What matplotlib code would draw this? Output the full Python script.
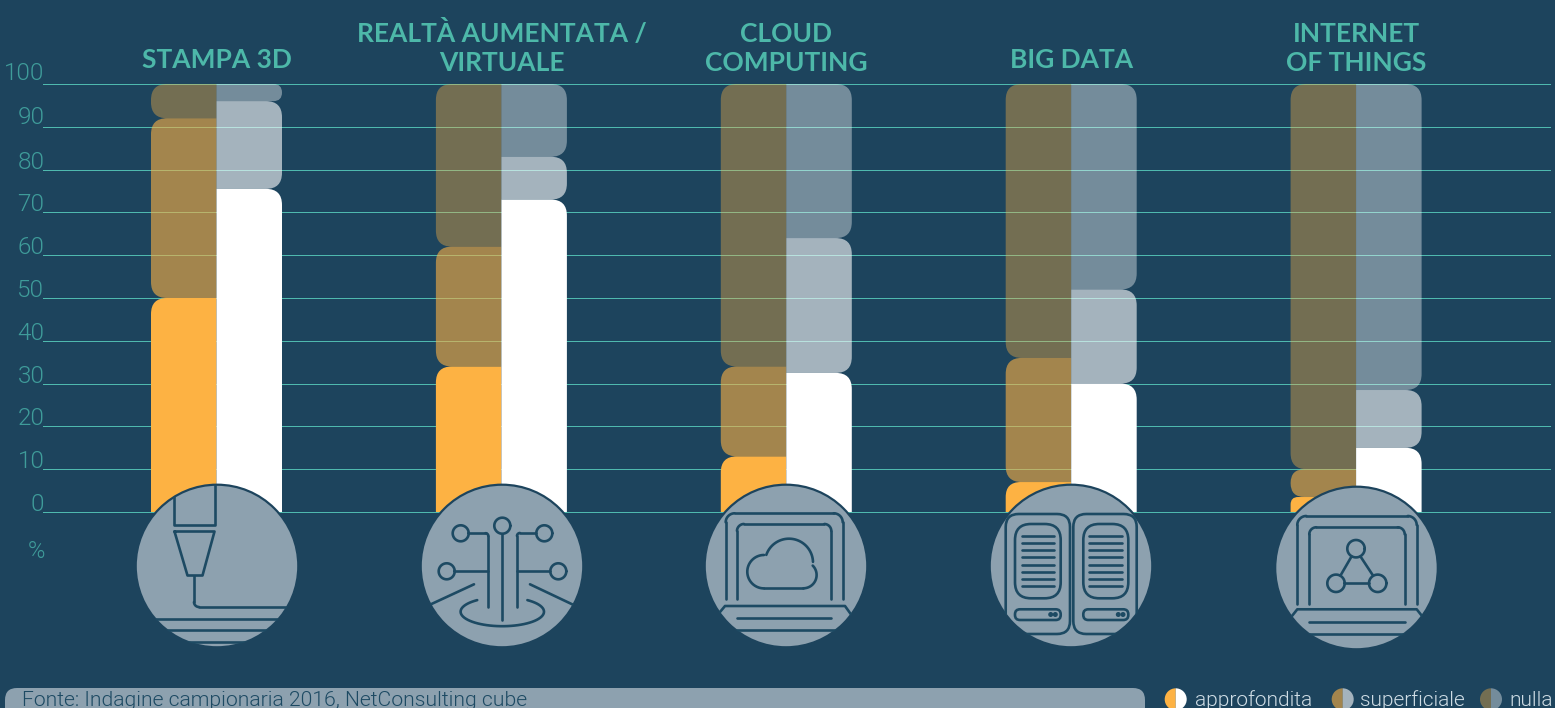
import numpy as np
import matplotlib
matplotlib.use('Agg')
import matplotlib.pyplot as plt
from matplotlib.patches import Circle, FancyBboxPatch, PathPatch, Wedge
from matplotlib.path import Path
from matplotlib.transforms import ScaledTranslation

# Data
titles = ['STAMPA 3D', 'REALTÀ AUMENTATA /\nVIRTUALE', 'CLOUD\nCOMPUTING', 'BIG DATA', 'INTERNET\nOF THINGS']
left_approfondita = [50, 34, 13, 7, 3.5]
left_superficiale = [42, 28, 21, 29, 6.5]
left_nulla = [8, 38, 66, 64, 90]
right_approfondita = [75.5, 73, 32.5, 30, 15]
right_superficiale = [20.5, 10, 31.5, 22, 13.5]
right_nulla = [4, 17, 36, 48, 71.5]
y_ticks = [0, 10, 20, 30, 40, 50, 60, 70, 80, 90, 100]
legend_labels = ['approfondita', 'superficiale', 'nulla']
source = 'Fonte: Indagine campionaria 2016, NetConsulting cube'

# Colours
bg = '#1D445D'
teal = '#4DB8A9'
teal_dim = '#3F9C9A'
grid_col = '#4FB9AE'
orange = '#FDB243'
icon_bg = '#8DA1AF'
icon_line = '#1D4A63'
legend_text = '#CFDDE5'
alpha_sup = 0.6
alpha_null = 0.39

W, H = 1555, 708
step = 284.9
first = 216.5
half_w = 65.5
y0_px, y100_px = 512, 84
x_l, x_r = 43, 1550

plt.rcParams['font.family'] = ['Lato', 'DejaVu Sans']
light_font = ['Roboto', 'DejaVu Sans']

fig = plt.figure(figsize=(W / 100, H / 100), dpi=100, facecolor=bg)

# Bars axes: categories on x, percent on y
ax = fig.add_axes([x_l / W, 1 - y0_px / H, (x_r - x_l) / W, (y0_px - y100_px) / H], facecolor='none')
ax.set_xlim((x_l - first) / step, (x_r - first) / step)
ax.set_ylim(0, 100)
px_y = (y0_px - y100_px) / 100
for s in ax.spines.values():
    s.set_visible(False)
ax.set_xticks([])
ax.set_yticks(y_ticks)
ax.set_yticklabels([str(v) for v in y_ticks], fontsize=17.5, fontweight=300, family=light_font, color=teal_dim, va='baseline')
ax.tick_params(axis='y', length=0, pad=-1)
ax.yaxis.grid(True, color=grid_col, linewidth=0.72)
ax.set_axisbelow(True)
for g in ax.get_ygridlines():
    g.set_clip_on(False)
for v, lab in zip(y_ticks, ax.get_yticklabels()):
    dy = {100: 4, 90: 3}.get(v, 1)
    lab.set_transform(lab.get_transform() + ScaledTranslation(0, dy / 100, fig.dpi_scale_trans))


def half_bar(x, side, bottom, top, color, alpha):
    # half of a bar, corners rounded on the outer side only
    outer = x + side * half_w / step
    r = min(16, (top - bottom) * px_y / 2)
    rx = side * r / step
    ry = r / px_y
    ryb = 0 if bottom == 0 else ry
    rxb = 0 if bottom == 0 else rx
    verts = [(x, bottom), (outer - rxb, bottom), (outer, bottom), (outer, bottom + ryb),
             (outer, top - ry), (outer, top), (outer - rx, top), (x, top), (x, bottom)]
    codes = [Path.MOVETO, Path.LINETO, Path.CURVE3, Path.CURVE3,
             Path.LINETO, Path.CURVE3, Path.CURVE3, Path.LINETO, Path.CLOSEPOLY]
    ax.add_patch(PathPatch(Path(verts, codes), facecolor=color, alpha=alpha, edgecolor='none', zorder=3))


for i in range(5):
    b = 0
    for val, a in zip([left_approfondita[i], left_superficiale[i], left_nulla[i]], [1, alpha_sup, alpha_null]):
        half_bar(i, -1, b, b + val, orange, a)
        b += val
    b = 0
    for val, a in zip([right_approfondita[i], right_superficiale[i], right_nulla[i]], [1, alpha_sup, alpha_null]):
        half_bar(i, 1, b, b + val, 'white', a)
        b += val

# Overlay in pixel coordinates for icons, titles and footer
ov = fig.add_axes([0, 0, 1, 1], facecolor='none')
ov.set_xlim(0, W)
ov.set_ylim(H, 0)
ov.axis('off')

lw = 1.9


def base_circle(cx, cy):
    c = Circle((cx, cy), 81.3, facecolor=icon_bg, edgecolor=bg, linewidth=1.6, zorder=4)
    ov.add_patch(c)
    return c


def line(clip, xs, ys):
    l, = ov.plot(xs, ys, color=icon_line, linewidth=lw, solid_capstyle='round', solid_joinstyle='round', zorder=5)
    l.set_clip_path(clip)


def arc(clip, cx, cy, rx, ry, t1, t2):
    t = np.radians(np.linspace(t1, t2, 60))
    line(clip, cx + rx * np.cos(t), cy + ry * np.sin(t))


def ring(clip, cx, cy, r):
    arc(clip, cx, cy, r, r, 0, 360)


def frame(clip, x0, x1, top, bottom, r):
    # open bottom rounded frame of a laptop screen
    line(clip, [x0, x0], [bottom, top + r])
    arc(clip, x0 + r, top + r, r, r, 180, 270)
    line(clip, [x0 + r, x1 - r], [top, top])
    arc(clip, x1 - r, top + r, r, r, 270, 360)
    line(clip, [x1, x1], [top + r, bottom])


def rbox(clip, x0, x1, y0, y1, r):
    p = FancyBboxPatch((x0 + r, y0 + r), x1 - x0 - 2 * r, y1 - y0 - 2 * r, boxstyle='round,pad=%f,rounding_size=%f' % (r, r),
                       facecolor='none', edgecolor=icon_line, linewidth=lw, zorder=5)
    ov.add_patch(p)
    p.set_clip_path(clip)


# Stampa 3D
c = base_circle(217, 566)
line(c, [173.5, 173.5, 215, 215], [470, 525, 525, 470])
line(c, [174.5, 214.5, 202.5, 187.5, 174.5], [531.5, 531.5, 575.5, 575.5, 531.5])
line(c, [194, 194], [576, 602])
arc(c, 199, 602, 5, 5, 180, 90)
line(c, [199, 300], [607, 607])
for y in [618.5, 630, 642]:
    line(c, [130, 300], [y, y])

# Realta aumentata
c = base_circle(502, 566)
for cx, cy in [(460.7, 533.3), (502.3, 525.7), (544.3, 533.3), (446.7, 571.3), (558.3, 571.3)]:
    ring(c, cx, cy, 8)
line(c, [502.3, 502.3], [534, 620])
line(c, [469, 485.5], [533.3, 533.3])
arc(c, 485.5, 536, 2.8, 2.8, 270, 360)
line(c, [488.3, 488.3], [536, 607])
line(c, [535.5, 520], [533.3, 533.3])
arc(c, 520, 536, 3, 3, 270, 180)
line(c, [517, 517], [536, 607])
line(c, [455, 488.3], [571.3, 571.3])
line(c, [517, 550], [571.3, 571.3])
line(c, [425, 474], [607, 584.3])
line(c, [530, 580], [584.3, 608])
arc(c, 502.3, 611.7, 41.7, 14.5, -53, 233)

# Cloud computing
c = base_circle(786, 566)
frame(c, 725.7, 842.7, 513.3, 599.3, 9)
frame(c, 737, 831.3, 524, 599.3, 7)
line(c, [715, 725, 845, 855], [618, 606, 606, 620])
line(c, [737, 831.3], [617.7, 617.7])
line(c, [700, 870], [630, 630])
arc(c, 789, 562.7, 24, 24, -161, -2)
arc(c, 764, 571.7, 16.7, 16.7, 90, 270)
line(c, [764, 803.3], [588.3, 588.3])
arc(c, 803.3, 575, 13.3, 13.3, 90, -45)

# Big data
c = base_circle(1071, 566)
for x0, x1, gx0, gx1, lx0, lx1, dots in [(1005.7, 1070, 1015, 1060.7, 1021.7, 1054, (1050.7, 1055.3)),
                                         (1073.3, 1136.7, 1083.3, 1128.3, 1089, 1122, (1118.3, 1123))]:
    rbox(c, x0, x1, 514, 634, 13)
    rbox(c, gx0, gx1, 524, 598.3, 16)
    for y in [535.7, 542.9, 550, 557.3, 564.7, 571.7, 579, 586]:
        line(c, [lx0, lx1], [y, y])
    rbox(c, gx0, gx1, 609.3, 620, 5)
    for dx in dots:
        d = Circle((dx, 614.5), 2.5, facecolor=icon_line, edgecolor='none', zorder=5)
        ov.add_patch(d)

# Internet of things
c = base_circle(1356.5, 568)
frame(c, 1297.3, 1416.7, 516, 604, 9)
frame(c, 1309.3, 1404.7, 527.3, 604, 7)
line(c, [1288, 1297.3, 1416.7, 1426], [621, 609.3, 609.3, 621])
line(c, [1308.7, 1405.3], [622, 622])
line(c, [1270, 1440], [634, 634])
ring(c, 1356, 548.7, 8.7)
ring(c, 1336, 583.3, 8.7)
ring(c, 1377.7, 583.3, 8.7)
line(c, [1351.5, 1340.5], [556.5, 575.5])
line(c, [1360.5, 1373], [556.5, 575.5])
line(c, [1344.7, 1369], [583.3, 583.3])

# Titles and axis unit
for i, t in enumerate(titles):
    ov.text(first + i * step, 71 if '\n' in t else 68, t, color=teal, fontsize=19, fontweight='bold',
            ha='center', va='baseline', linespacing=1.25)
ov.text(36, 552, '%', color=teal_dim, fontsize=17, fontweight=300, family=light_font, ha='center', va='center')

# Footer
ov.add_patch(FancyBboxPatch((17, 700), 1116, 20, boxstyle='round,pad=12,rounding_size=12', facecolor=icon_bg, edgecolor='none'))
ov.text(22, 706, source, color=icon_line, fontsize=15.2, fontweight=300, family=light_font, ha='left', va='baseline')

# Legend with half discs
legend_x = [1175.7, 1342.7, 1491]
legend_tx = [1195.5, 1360, 1509]
legend_a = [1, alpha_sup, alpha_null]
for x, tx, a, lab in zip(legend_x, legend_tx, legend_a, legend_labels):
    ov.add_patch(Wedge((x, 699.3), 11, 90, 270, facecolor=orange, alpha=a, edgecolor='none'))
    ov.add_patch(Wedge((x, 699.3), 11, -90, 90, facecolor='white', alpha=a, edgecolor='none'))
    ov.text(tx, 706, lab, color=legend_text, fontsize=15, fontweight=300, family=light_font, ha='left', va='baseline')

fig.savefig('out.png', dpi=100, facecolor=bg)
plt.close()
